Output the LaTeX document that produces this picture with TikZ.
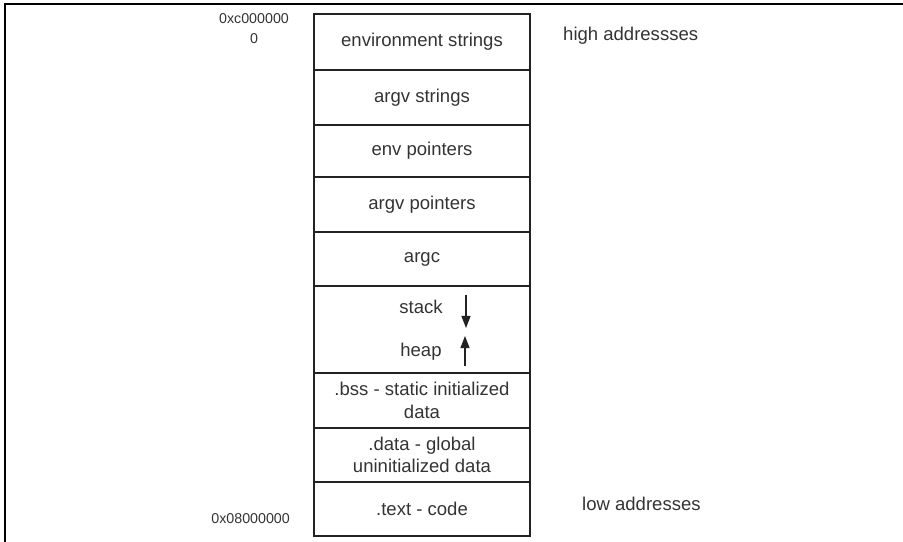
\documentclass[tikz,border=0pt]{standalone}
\usepackage{fontspec}
\setmainfont{Liberation Sans}
\usetikzlibrary{arrows.meta}
\definecolor{txt}{HTML}{333333}
\definecolor{ln}{HTML}{222222}
\tikzset{
  cell/.style={draw=ln, line width=1.3bp, rectangle, inner sep=0pt, outer sep=0pt,
    minimum width=216bp, text=txt, align=center,
    font=\fontsize{18.6}{22.5}\selectfont},
  lbl/.style={text=txt, inner sep=0pt, font=\fontsize{18.6}{22.5}\selectfont},
  addr/.style={text=txt, inner sep=0pt, align=center, font=\fontsize{14.3}{20}\selectfont},
  growarrow/.style={draw=ln, line width=1.2bp, -{Triangle[width=9bp,length=12bp]}}
}
\begin{document}
\begin{tikzpicture}[x=1bp,y=-1bp]
\useasboundingbox (0,0) rectangle (903,542);
% frame edges
\draw[line width=1.6bp, black] (5,542) -- (5,4) -- (903,4);
% memory cells
\node[cell, minimum height=56bp] (env)   at (422,42)    {environment strings};
\node[cell, minimum height=55bp] (argvs) at (422,97.5)  {argv strings};
\node[cell, minimum height=52bp] (envp)  at (422,151)   {env pointers};
\node[cell, minimum height=55bp] (argvp) at (422,204.5) {argv pointers};
\node[cell, minimum height=54bp] (argc)  at (422,259)   {argc};
\node[cell, minimum height=87bp] (stk)   at (422,329.5) {};
\node[cell, minimum height=55bp] (bss)   at (422,400.5) {.bss - static initialized\\data};
\node[cell, minimum height=54bp] (data)  at (422,455)   {.data - global\\uninitialized data};
\node[cell, minimum height=54bp] (text)  at (422,509)   {.text - code};
% stack / heap
\node[lbl] (stack) at (421,307) {stack};
\node[lbl] (heap)  at (421,352) {heap};
\coordinate (sdA) at (466,295);
\coordinate (sdB) at (466,328);
\coordinate (huA) at (465,366);
\coordinate (huB) at (465,336);
\draw[growarrow] (sdA) -- (sdB);
\draw[growarrow] (huA) -- (huB);
% side labels
\node[lbl, anchor=west] (high) at (563,36) {high addressses};
\node[lbl, anchor=west] (low)  at (582,504) {low addresses};
\node[addr] (hiaddr) at (254,29) {0xc000000\\0};
\node[addr, anchor=east] (loaddr) at (290,519) {0x08000000};
\end{tikzpicture}
\end{document}
